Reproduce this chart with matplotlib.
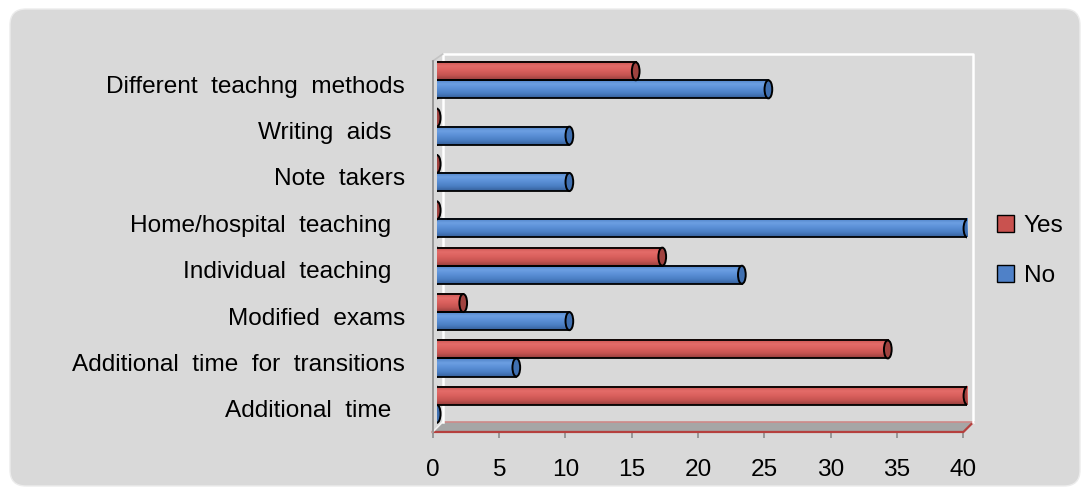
import numpy as np
import matplotlib
matplotlib.use('Agg')
import matplotlib.pyplot as plt
from matplotlib.patches import Ellipse, FancyBboxPatch, Patch, Polygon
from matplotlib.colors import LinearSegmentedColormap

plt.rcParams['font.family'] = ['Liberation Sans', 'DejaVu Sans']

# bottom to top
categories = ['Additional  time  ', 'Additional  time  for  transitions', 'Modified  exams',
              'Individual  teaching  ', 'Home/hospital  teaching  ', 'Note  takers',
              'Writing  aids  ', 'Different  teachng  methods']
yes_values = [40, 34, 2, 17, 0, 0, 0, 15]
no_values = [0, 6, 10, 23, 40, 10, 10, 25]
x_ticks = [0, 5, 10, 15, 20, 25, 30, 35, 40]

red_cmap = LinearSegmentedColormap.from_list('red_cyl', ['#c9524f', '#e46c69', '#da605d', '#c55451', '#963e3c'])
blue_cmap = LinearSegmentedColormap.from_list('blue_cyl', ['#4d80c4', '#6c9fe2', '#5a8fd6', '#4a7ec3', '#355f99'])
grad = np.linspace(0, 1, 100).reshape(-1, 1)
fs = 17.6

fig = plt.figure(figsize=(10.82, 4.88), dpi=100)
fig.patch.set_facecolor('white')
bg = FancyBboxPatch((0.10, 0.02), 10.70, 4.77, boxstyle='round,pad=0,rounding_size=0.16',
                    transform=fig.dpi_scale_trans, facecolor='#d9d9d9', edgecolor='#ececec',
                    lw=1, zorder=-1)
fig.add_artist(bg)

pos = [0.3999, 0.1148, 0.4905, 0.760]
ax = fig.add_axes(pos)
ax.set_facecolor('none')
ax.set_xlim(0, 40)
ax.set_ylim(-0.5, 7.5)
ax.set_xticks(x_ticks)
ax.set_yticks(range(len(categories)))
ax.set_yticklabels(categories)
ax.tick_params(axis='y', length=0, pad=20, labelsize=fs)
ax.tick_params(axis='x', length=4.5, width=1.2, color='#8c8c8c', pad=15, labelsize=fs)
for s in ['top', 'right', 'bottom']:
    ax.spines[s].set_visible(False)
ax.spines['left'].set_color('#8c8c8c')
ax.spines['left'].set_linewidth(1.2)

# 3d walls and floor, depth given in pixels
w_px = pos[2] * fig.get_figwidth() * fig.dpi
h_px = pos[3] * fig.get_figheight() * fig.dpi
ddx = 10 / w_px
ddy_b = 10 / h_px
ddy_t = 7 / h_px
kw = dict(transform=ax.transAxes, clip_on=False)
ax.add_patch(Polygon([(0, 0), (1, 0), (1 + ddx, ddy_b), (ddx, ddy_b)],
                     facecolor='#a6a6a6', edgecolor='none', **kw))
ax.plot([0, 1, 1 + ddx], [0, 0, ddy_b], color='#b5403e', lw=1.6, **kw)
ax.plot([ddx, 1 + ddx], [ddy_b, ddy_b], color='#cf8a88', lw=1.2, **kw)
ax.plot([0, ddx], [0, ddy_b], color='#f2f2f2', lw=1.2, **kw)
ax.plot([ddx, ddx, 1 + ddx, 1 + ddx], [ddy_b, 1 + ddy_t, 1 + ddy_t, ddy_b],
        color='white', lw=1.8, **kw)
ax.plot([0, ddx], [1, 1 + ddy_t], color='#c4c4c4', lw=1.2, **kw)

# cylinders sit halfway into the depth
bx = fig.add_axes([pos[0] + 4 / (fig.get_figwidth() * fig.dpi),
                   pos[1] + 4 / (fig.get_figheight() * fig.dpi), pos[2], pos[3]])
bx.set_zorder(ax.get_zorder() + 1)
bx.axis('off')


def cylinder(a, y, value, cmap, cap_color, h=0.39, cap_w=0.58):
    if value > 0:
        a.add_patch(Ellipse((0, y), cap_w, h, facecolor=cmap(0.45), edgecolor='black', lw=1.4, zorder=2))
        a.imshow(grad, cmap=cmap, extent=(0, value, y - h / 2, y + h / 2), aspect='auto',
                 origin='upper', interpolation='bilinear', zorder=3)
        a.plot([0, value], [y + h / 2] * 2, color='black', lw=1.3, zorder=4)
        a.plot([0, value], [y - h / 2] * 2, color='black', lw=1.3, zorder=4)
    a.add_patch(Ellipse((value, y), cap_w, h, facecolor=cap_color, edgecolor='black', lw=1.4, zorder=5))


for i in range(len(categories)):
    cylinder(bx, i + 0.195, yes_values[i], red_cmap, '#a0423f')
    cylinder(bx, i - 0.195, no_values[i], blue_cmap, '#3f6fb0')
bx.set_xlim(0, 40)
bx.set_ylim(-0.5, 7.5)

handles = [Patch(facecolor='#c9524f', edgecolor='black', label='Yes'),
           Patch(facecolor='#4f81c8', edgecolor='black', label='No')]
fig.legend(handles=handles, loc='center left', bbox_to_anchor=(0.9214, 0.4857), frameon=False,
           fontsize=fs, handlelength=0.7, handleheight=0.7, handletextpad=0.4,
           labelspacing=1.15, borderpad=0, borderaxespad=0)

fig.savefig('out.png', dpi=100, facecolor='white')
